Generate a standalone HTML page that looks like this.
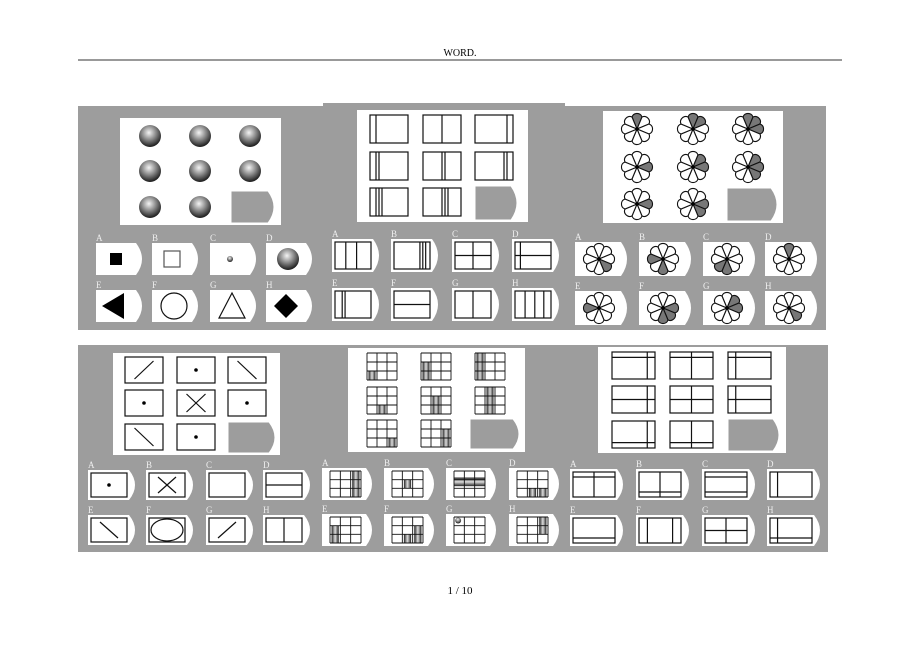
<!DOCTYPE html>
<html><head><meta charset="utf-8"><style>
html,body{margin:0;padding:0;background:#fff;}
svg{display:block;}
</style></head><body>
<svg id="s" width="920" height="651" xmlns="http://www.w3.org/2000/svg">
<defs>
<radialGradient id="ball" cx="0.45" cy="0.35" r="0.65">
<stop offset="0" stop-color="#f4f4f4"/><stop offset="0.5" stop-color="#888"/><stop offset="1" stop-color="#1a1a1a"/>
</radialGradient>
<linearGradient id="bar" x1="0" x2="1" y1="0" y2="0">
<stop offset="0" stop-color="#222"/><stop offset="0.5" stop-color="#ddd"/><stop offset="1" stop-color="#222"/>
</linearGradient>
<linearGradient id="barh" x1="0" x2="0" y1="0" y2="1">
<stop offset="0" stop-color="#222"/><stop offset="0.5" stop-color="#ddd"/><stop offset="1" stop-color="#222"/>
</linearGradient>
</defs>
<text x="460" y="56" font-family="Liberation Serif, serif" font-size="10" text-anchor="middle">WORD.</text>
<line x1="78" y1="60" x2="842" y2="60" stroke="#333" stroke-width="1"/>
<rect x="78" y="106" width="748" height="224" fill="#9d9d9d"/>
<rect x="323" y="103" width="242" height="4" fill="#9d9d9d"/>
<rect x="78" y="345" width="750" height="207" fill="#9d9d9d"/>
<text x="460" y="594" font-family="Liberation Serif, serif" font-size="11" text-anchor="middle">1 / 10</text>
<g id="g"></g>
</svg>
<script>
var g=document.getElementById('g');var out='';
function add(s){out+=s;}
function rect(x,y,w,h,f){add('<rect x="'+x+'" y="'+y+'" width="'+w+'" height="'+h+'" fill="'+(f||'none')+'" stroke="#111" stroke-width="1.2"/>');}
function fill(x,y,w,h,f){add('<rect x="'+x+'" y="'+y+'" width="'+w+'" height="'+h+'" fill="'+f+'"/>');}
function line(a,b,c,d,sw){add('<line x1="'+a+'" y1="'+b+'" x2="'+c+'" y2="'+d+'" stroke="#111" stroke-width="'+(sw||1.2)+'"/>');}
function tab(x,y,w,h,f){add('<path d="M'+x+' '+y+'H'+(x+w-9)+'Q'+(x+w+3)+' '+(y+h/2)+' '+(x+w-9)+' '+(y+h)+'H'+x+'Z" fill="'+(f||'#fff')+'" stroke="'+(f?'#fff':'none')+'" stroke-width="1"/>');}
function lab(x,y,t){add('<text x="'+x+'" y="'+y+'" font-family="Liberation Serif, serif" font-size="9" fill="#eee">'+t+'</text>');}
function ball(cx,cy,r){add('<circle cx="'+cx+'" cy="'+cy+'" r="'+r+'" fill="url(#ball)"/>');}
var L='ABCDEFGH';
function opts(xs,y1,y2,w,h,fn){for(var i=0;i<8;i++){var x=xs[i%4],y=i<4?y1:y2;lab(x,y-2,L[i]);tab(x,y,w,h);fn(i,x,y);}}
fill(120,118,161,107,'#fff');
var bx=[150,200,250],by=[136,171,207];
for(var r=0;r<3;r++)for(var c=0;c<3;c++){if(r==2&&c==2)continue;ball(bx[c],by[r],11);}
tab(231,191,46,32,'#9d9d9d');
opts([96,152,210,266],243,290,49,32,function(i,x,y){var cx=x+20,cy=y+16;
 if(i==0)add('<rect x="'+(cx-6)+'" y="'+(cy-6)+'" width="12" height="12" fill="#000"/>');
 if(i==1)add('<rect x="'+(cx-8)+'" y="'+(cy-8)+'" width="16" height="16" fill="none" stroke="#555" stroke-width="1.2"/>');
 if(i==2)ball(cx,cy,3);
 if(i==3)ball(cx+2,cy,11);
 if(i==4)add('<path d="M'+(cx-14)+' '+cy+'L'+(cx+8)+' '+(cy-13)+'L'+(cx+8)+' '+(cy+13)+'Z" fill="#000"/>');
 if(i==5)add('<circle cx="'+(cx+2)+'" cy="'+cy+'" r="13" fill="none" stroke="#111" stroke-width="1.2"/>');
 if(i==6)add('<path d="M'+(cx+2)+' '+(cy-13)+'L'+(cx+15)+' '+(cy+12)+'L'+(cx-11)+' '+(cy+12)+'Z" fill="none" stroke="#111" stroke-width="1.2"/>');
 if(i==7)add('<path d="M'+cx+' '+(cy-12)+'L'+(cx+12)+' '+cy+'L'+cx+' '+(cy+12)+'L'+(cx-12)+' '+cy+'Z" fill="#000"/>');
});
fill(357,110,171,112,'#fff');
var p2x=[370,423,475],p2y=[115,152,188];
for(var r=0;r<3;r++)for(var c=0;c<3;c++){if(r==2&&c==2)continue;var x=p2x[c],y=p2y[r];rect(x,y,38,28);
 var pos=[x+6,x+19,x+32][c];for(var k=0;k<=r;k++)line(pos+k*3-(c==2?r*3:0),y,pos+k*3-(c==2?r*3:0),y+28);}
tab(475,186,45,34,'#9d9d9d');
function inner(x,y,w,h){rect(x+3,y+3,w-14,h-6);return [x+3,y+3,w-14,h-6];}
opts([332,391,452,512],239,288,50,33,function(i,x,y){var b=inner(x,y,50,33),X=b[0],Y=b[1],W=b[2],H=b[3];
 function v(f){line(X+W*f,Y,X+W*f,Y+H);} function hz(f){line(X,Y+H*f,X+W,Y+H*f);}
 if(i==0){v(0.3);v(0.6);} if(i==1){v(0.72);v(0.8);v(0.88);} if(i==2){v(0.5);hz(0.5);}
 if(i==3){v(0.15);hz(0.5);} if(i==4){v(0.2);v(0.28);} if(i==5){hz(0.5);} if(i==6){v(0.5);} if(i==7){v(0.28);v(0.55);v(0.8);}
});
fill(603,111,180,112,'#fff');
function flower(cx,cy,R,sh){for(var i=0;i<8;i++){var a1=(-90+i*45-22.5)*Math.PI/180,a2=a1+Math.PI/4;
 var x1=cx+R*Math.cos(a1),y1=cy+R*Math.sin(a1),x2=cx+R*Math.cos(a2),y2=cy+R*Math.sin(a2);
 var rr=R*Math.sin(Math.PI/8)+0.3;
 add('<path d="M'+cx+' '+cy+'L'+x1.toFixed(1)+' '+y1.toFixed(1)+'A'+rr.toFixed(1)+' '+rr.toFixed(1)+' 0 0 1 '+x2.toFixed(1)+' '+y2.toFixed(1)+'Z" fill="'+(sh.indexOf(i)>=0?'#777':'#fff')+'" stroke="#111" stroke-width="1.1"/>');}
 add('<circle cx="'+cx+'" cy="'+cy+'" r="1.8" fill="#000"/>');}
var fx=[637,693,748],fy=[129,167,204];
var fs=[[[0],[0,1],[0,1,2]],[[2],[1,2],[1,2,3]],[[2],[2,3]]];
for(var r=0;r<3;r++)for(var c=0;c<3;c++){if(r==2&&c==2)continue;flower(fx[c],fy[r],13,fs[r][c]);}
tab(727,188,53,33,'#9d9d9d');
var fo=[[3],[6,4],[4,5],[0],[6],[2,3,4],[1,2],[3]];
opts([575,639,703,765],242,291,55,34,function(i,x,y){flower(x+24,y+17,13,fo[i]);});
fill(113,353,167,102,'#fff');
var p4x=[125,177,228],p4y=[357,390,424];
var c4=[['/','.','\\'],['.','x','.'],['\\','.']];
function mark(t,X,Y,W,H){var m=4;
 if(t=='/')line(X+W*0.25,Y+H-m,X+W*0.75,Y+m);
 if(t=='\\')line(X+W*0.25,Y+m,X+W*0.75,Y+H-m);
 if(t=='.')add('<circle cx="'+(X+W/2)+'" cy="'+(Y+H/2)+'" r="1.8" fill="#000"/>');
 if(t=='x'){line(X+W*0.25,Y+m,X+W*0.75,Y+H-m);line(X+W*0.25,Y+H-m,X+W*0.75,Y+m);}
 if(t=='-')line(X,Y+H/2,X+W,Y+H/2);
 if(t=='|')line(X+W/2,Y,X+W/2,Y+H);
 if(t=='o')add('<ellipse cx="'+(X+W/2)+'" cy="'+(Y+H/2)+'" rx="'+(W/2-2)+'" ry="'+(H/2-1)+'" fill="none" stroke="#111" stroke-width="1.2"/>');}
for(var r=0;r<3;r++)for(var c=0;c<3;c++){if(r==2&&c==2)continue;rect(p4x[c],p4y[r],38,26);mark(c4[r][c],p4x[c],p4y[r],38,26);}
tab(228,422,50,31,'#9d9d9d');
var o4=['.','x','','-','\\','o','/','|'];
opts([88,146,206,263],470,515,50,30,function(i,x,y){var b=inner(x,y,50,30);mark(o4[i],b[0],b[1],b[2],b[3]);});
fill(348,348,177,104,'#fff');
function grid(X,Y,W,H,cells,hb,bl){var cw=W/3,ch=H/3;
 cells.forEach(function(c){fill(X+c[1]*cw+cw*0.15,Y+c[0]*ch,cw*0.7,ch,'url(#bar)');});
 if(hb)fill(X,Y+ch*0.75,W,ch*1.0,'url(#barh)');
 for(var k=0;k<=3;k++){line(X+k*cw,Y,X+k*cw,Y+H,0.9);line(X,Y+k*ch,X+W,Y+k*ch,0.9);}
 if(bl)ball(X+cw*0.4,Y+ch*0.4,3);}
var p5x=[367,421,475],p5y=[353,387,420];
for(var r=0;r<3;r++)for(var c=0;c<3;c++){if(r==2&&c==2)continue;var cells=[];for(var k=0;k<=c;k++)cells.push([2-k,r]);grid(p5x[c],p5y[r],30,27,cells);}
tab(470,419,52,30,'#9d9d9d');
var o5=[[[0,2],[1,2],[2,2]],[[1,1]],[],[[2,1],[2,2]],[[1,0],[2,0]],[[2,1],[1,2],[2,2]],[],[[0,2],[1,2]]];
opts([322,384,446,509],468,514,53,32,function(i,x,y){grid(x+8,y+3,31,26,o5[i],i==2,i==6);});
fill(598,347,188,106,'#fff');
var p6x=[612,670,728],p6y=[352,386,421];
for(var r=0;r<3;r++)for(var c=0;c<3;c++){if(r==2&&c==2)continue;var X=p6x[c],Y=p6y[r];rect(X,Y,43,27);
 line(X,Y+27*[0.2,0.5,0.8][r],X+43,Y+27*[0.2,0.5,0.8][r]);var vx=X+43*[0.82,0.5,0.18][c];line(vx,Y,vx,Y+27);}
tab(728,419,54,32,'#9d9d9d');
opts([570,636,702,767],469,515,56,31,function(i,x,y){var b=inner(x,y,56,31),X=b[0],Y=b[1],W=b[2],H=b[3];
 function v(f){line(X+W*f,Y,X+W*f,Y+H);} function hz(f){line(X,Y+H*f,X+W,Y+H*f);}
 if(i==0){hz(0.2);v(0.5);} if(i==1){hz(0.8);v(0.5);} if(i==2){hz(0.2);hz(0.8);} if(i==3){v(0.18);}
 if(i==4){hz(0.8);} if(i==5){v(0.2);v(0.8);} if(i==6){hz(0.5);v(0.5);} if(i==7){v(0.18);hz(0.8);}
});
g.innerHTML=out;
</script>
</body></html>
